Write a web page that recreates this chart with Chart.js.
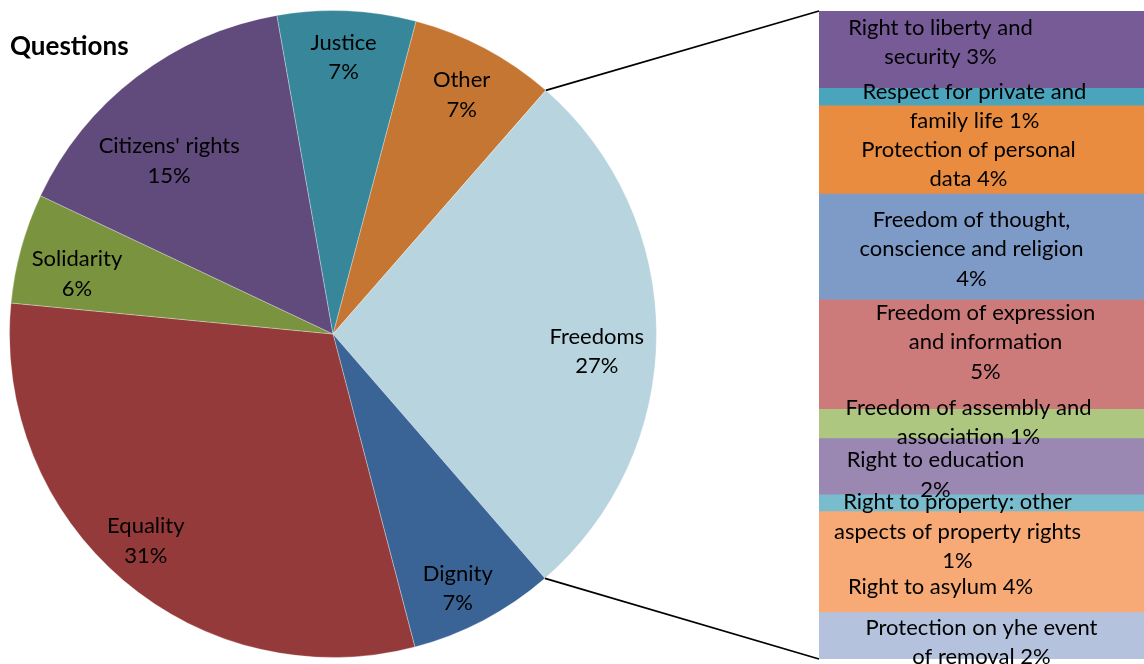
<!DOCTYPE html>
<html>
<head>
<meta charset="utf-8">
<script src="https://cdn.jsdelivr.net/npm/chart.js@4.4.1/dist/chart.umd.min.js"></script>
<style>
    html, body { margin: 0; padding: 0; background: #fff; overflow: hidden; }
    #wrap { position: relative; width: 1144px; height: 664px; }
    #pie-chart { position: absolute; left: 0; top: 0; }
    #bar-chart { position: absolute; left: 819px; top: 0; }
</style>
</head>
<body>
<div id="wrap">
    <canvas id="pie-chart" width="1144" height="664"></canvas>
    <canvas id="bar-chart" width="325" height="664"></canvas>
</div>
<script>
const chartTitle = "Questions";

// pie, clockwise from "Other"
const pieLabels = ["Other", "Freedoms", "Dignity", "Equality", "Solidarity", "Citizens' rights", "Justice"];
const pieValues = [7.3, 27.2, 7.3, 30.6, 5.5, 15.2, 6.9];
const pieColors = ["#C47632", "#B7D4DF", "#3B6496", "#953A3A", "#79933F", "#614A7C", "#37869A"];

// breakdown of "Freedoms", top to bottom
// a trailing "\n" puts the percentage on its own line
const barLabels = [
    "Right to liberty and\nsecurity",
    "Respect for private and\nfamily life",
    "Protection of personal\ndata",
    "Freedom of thought,\nconscience and religion\n",
    "Freedom of expression\nand information\n",
    "Freedom of assembly and\nassociation",
    "Right to education\n",
    "Right to property: other\naspects of property rights\n",
    "Right to asylum",
    "Protection on yhe event\nof removal"
];
const barValues = [3.2, 0.72, 3.68, 4.41, 4.57, 1.21, 2.35, 0.7, 4.21, 1.96];
const barColors = ["#775B97", "#4AA5BC", "#EA8C40", "#7E9BC8", "#CC7B7A", "#ADC680", "#9A88B3", "#79BCCE", "#F7AA75", "#B4C2DE"];

const labelFont = "22px Lato";
const lineHeight = 29.5;

// label nudges (px) from where the plugins would put them
const pieNudge = [[1, 1], [-8, 17], [-2, 14], [-11, 0], [6, 12], [1, 43], [-1, -5]];
const barNudge = [[-41, -7], [-7, 10], [-13, 15], [-10, 3], [4, -12], [-13, -1], [-46, 9], [-24, 29], [-41, 25], [0, 7]];

const pieCanvas = document.getElementById("pie-chart");
const barCanvas = document.getElementById("bar-chart");

function drawLines(ctx, lines, x, y) {
    lines.forEach((line, k) => {
        ctx.fillText(line, x, y + (k - (lines.length - 1) / 2) * lineHeight);
    });
}

const barLabelPlugin = {
    id: "barLabels",
    afterDatasetsDraw(chart) {
        const ctx = chart.ctx;
        ctx.save();
        ctx.font = labelFont;
        ctx.fillStyle = "#000";
        ctx.textAlign = "center";
        ctx.textBaseline = "middle";
        barValues.forEach((v, i) => {
            const bar = chart.getDatasetMeta(i).data[0];
            const name = barLabels[i];
            const pct = Math.round(v) + "%";
            const text = name.endsWith("\n") ? name + pct : name + " " + pct;
            const x = bar.x + barNudge[i][0];
            const y = (bar.y + bar.base) / 2 + barNudge[i][1];
            drawLines(ctx, text.split("\n"), x, y);
        });
        ctx.restore();
    }
};

const barChart = new Chart(barCanvas.getContext("2d"), {
    type: "bar",
    data: {
        labels: ["Freedoms"],
        datasets: barValues.map((v, i) => ({
            label: barLabels[i],
            data: [v],
            backgroundColor: barColors[i],
            borderWidth: 0,
            barPercentage: 1,
            categoryPercentage: 1
        }))
    },
    options: {
        responsive: false,
        animation: false,
        devicePixelRatio: 1,
        layout: { padding: { top: 11, bottom: 5, left: 0, right: 0 } },
        scales: {
            x: { stacked: true, display: false },
            y: {
                stacked: true, display: false, reverse: true,
                min: 0, max: barValues.reduce((a, b) => a + b, 0)
            }
        },
        plugins: { legend: { display: false }, tooltip: { enabled: false } }
    },
    plugins: [barLabelPlugin]
});

const pieExtrasPlugin = {
    id: "pieExtras",
    afterDatasetsDraw(chart) {
        const ctx = chart.ctx;
        const arcs = chart.getDatasetMeta(0).data;
        ctx.save();

        ctx.font = "bold 26px Lato";
        ctx.fillStyle = "#000";
        ctx.textAlign = "left";
        ctx.textBaseline = "alphabetic";
        ctx.fillText(chartTitle, 10, 55);

        ctx.font = labelFont;
        ctx.textAlign = "center";
        ctx.textBaseline = "middle";
        arcs.forEach((arc, i) => {
            const mid = (arc.startAngle + arc.endAngle) / 2;
            const r = arc.outerRadius * 0.84;
            const x = arc.x + Math.cos(mid) * r + pieNudge[i][0];
            const y = arc.y + Math.sin(mid) * r + pieNudge[i][1];
            drawLines(ctx, [pieLabels[i], Math.round(pieValues[i]) + "%"], x, y);
        });

        // connector lines from the Freedoms slice to the bar
        const arc = arcs[pieLabels.indexOf("Freedoms")];
        const first = barChart.getDatasetMeta(0).data[0];
        const last = barChart.getDatasetMeta(barValues.length - 1).data[0];
        const offX = barCanvas.offsetLeft - pieCanvas.offsetLeft;
        const barLeft = offX + first.x - first.width / 2;
        const barTop = Math.min(first.y, first.base);
        const barBottom = Math.max(last.y, last.base);
        ctx.strokeStyle = "#000";
        ctx.lineWidth = 1.75;
        ctx.beginPath();
        ctx.moveTo(arc.x + Math.cos(arc.startAngle) * arc.outerRadius, arc.y + Math.sin(arc.startAngle) * arc.outerRadius);
        ctx.lineTo(barLeft, barTop);
        ctx.moveTo(arc.x + Math.cos(arc.endAngle) * arc.outerRadius, arc.y + Math.sin(arc.endAngle) * arc.outerRadius);
        ctx.lineTo(barLeft, barBottom);
        ctx.stroke();
        ctx.restore();
    }
};

const pieChart = new Chart(pieCanvas.getContext("2d"), {
    type: "pie",
    data: {
        labels: pieLabels,
        datasets: [{
            data: pieValues,
            backgroundColor: pieColors,
            borderColor: "rgba(255,255,255,0.3)",
            borderWidth: 1
        }]
    },
    options: {
        responsive: false,
        animation: false,
        devicePixelRatio: 1,
        rotation: 14.86,
        layout: { padding: { left: 9, top: 10, right: 487, bottom: 6 } },
        plugins: { legend: { display: false }, tooltip: { enabled: false } }
    },
    plugins: [pieExtrasPlugin]
});
</script>
</body>
</html>
